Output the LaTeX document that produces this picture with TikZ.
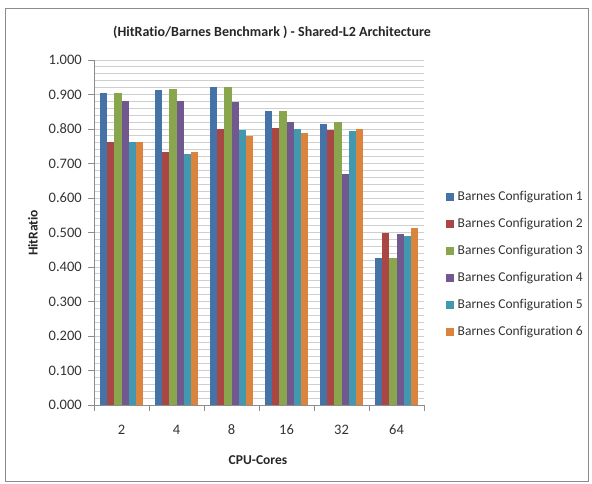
\documentclass[tikz,border=0pt]{standalone}
\usepackage{fontspec}
\setmainfont{Carlito}[Ligatures=NoCommon]
\usetikzlibrary{positioning}
\definecolor{cfgA}{HTML}{4572A7}
\definecolor{cfgB}{HTML}{AA4643}
\definecolor{cfgC}{HTML}{89A54E}
\definecolor{cfgD}{HTML}{71588F}
\definecolor{cfgE}{HTML}{4198AF}
\definecolor{cfgF}{HTML}{DB843D}
\definecolor{gridgray}{HTML}{CFCFCF}
\definecolor{axisgray}{HTML}{8C8C8C}
\tikzset{
	gridline/.style={draw=gridgray, line width=0.9pt},
	axisline/.style={draw=axisgray, line width=0.9pt},
	ticklabel/.style={font=\fontsize{14.5}{15}\selectfont, text=black!80, inner sep=0pt},
	axistitle/.style={font=\fontsize{13.5}{14}\selectfont\bfseries, text=black!85, inner sep=0pt},
	legendtext/.style={font=\fontsize{13.5}{14}\selectfont, text=black!80, inner sep=0pt, anchor=west},
}
\begin{document}
\begin{tikzpicture}[x=1pt, y=-1pt]
			%%%%% START %%%%%
			\useasboundingbox (0, 0) rectangle (592, 484);
			\draw[draw=axisgray, line width=0.9pt] (5.5, 8) rectangle (588, 481);
			
			\node[font=\fontsize{14}{15}\selectfont\bfseries, text=black!85] (title) at (272, 32) {(HitRatio/Barnes Benchmark ) - Shared-L2 Architecture};
			
			% grid lines every 0.02
			\foreach \k in {1,...,50}
				\draw[gridline] (94, {405 - 6.9*\k}) -- (424, {405 - 6.9*\k});
			
			% bars
			\foreach \g/\a/\b/\c/\d/\e/\f in {
				0/0.905/0.763/0.905/0.882/0.763/0.763,
				1/0.913/0.733/0.915/0.882/0.727/0.733,
				2/0.921/0.800/0.921/0.879/0.797/0.779,
				3/0.853/0.803/0.853/0.821/0.800/0.789,
				4/0.814/0.797/0.821/0.670/0.795/0.800,
				5/0.427/0.500/0.425/0.496/0.490/0.512}{
				\foreach \i/\v/\col in {0/\a/cfgA, 1/\b/cfgB, 2/\c/cfgC, 3/\d/cfgD, 4/\e/cfgE, 5/\f/cfgF}
					\fill[\col] ({100 + 55*\g + 7.2*\i}, 405) rectangle ({107.2 + 55*\g + 7.2*\i}, {405 - 345*\v});
			}
			
			% axes
			\draw[axisline] (94, 405) -- (94, 60);
			\draw[axisline] (88, 405) -- (424, 405);
			\foreach \k in {0,...,10}
				\draw[axisline] (88, {405 - 34.5*\k}) -- (94, {405 - 34.5*\k});
			\foreach \g in {0,...,6}
				\draw[axisline] ({94 + 55*\g}, 405) -- ({94 + 55*\g}, 411);
			
			\foreach \k/\lab in {0/0.000, 1/0.100, 2/0.200, 3/0.300, 4/0.400, 5/0.500, 6/0.600, 7/0.700, 8/0.800, 9/0.900, 10/1.000}
				\node[ticklabel, anchor=east] (ylab\k) at (82, {405 - 34.5*\k}) {\lab};
			\foreach \g/\lab in {0/2, 1/4, 2/8, 3/16, 4/32, 5/64}
				\node[ticklabel] (xlab\g) at ({121.5 + 55*\g}, 430) {\lab};
			
			\node[axistitle, rotate=90] (ytitle) at (33, 233) {HitRatio};
			\node[axistitle] (xtitle) at (258, 460) {CPU-Cores};
			
			% legend
			\foreach \k/\col in {1/cfgA, 2/cfgB, 3/cfgC, 4/cfgD, 5/cfgE, 6/cfgF}{
				\fill[\col] (446, {193 + 27*(\k-1)}) rectangle (454, {201 + 27*(\k-1)});
				\node[legendtext] (leg\k) at (457.5, {197 + 27*(\k-1)}) {Barnes Configuration \k};
			}
			%%%%% END %%%%%
\end{tikzpicture}
\end{document}
